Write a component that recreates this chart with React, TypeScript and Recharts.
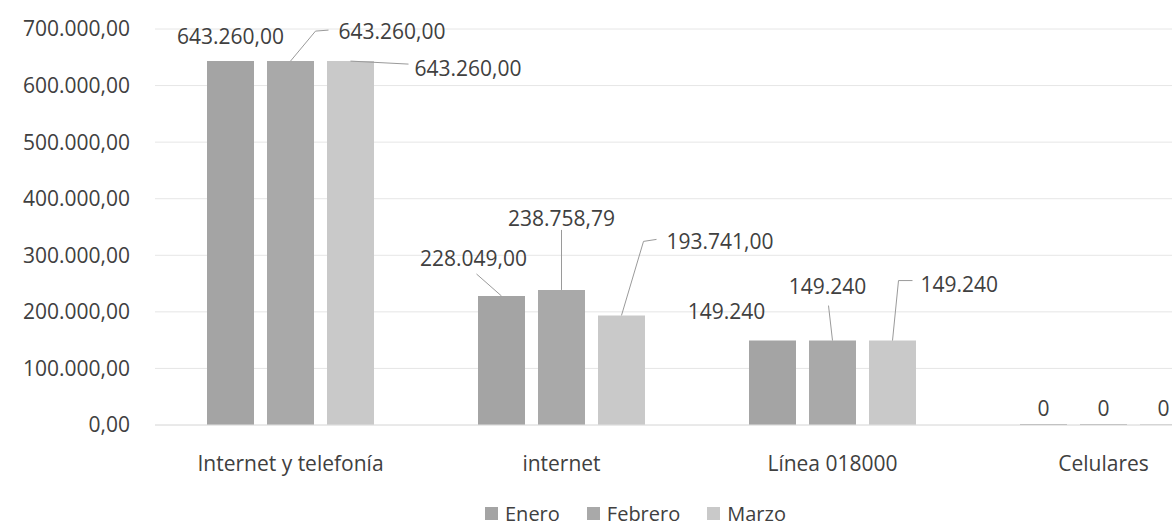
import { Bar, BarChart, CartesianGrid, LabelList, Legend, XAxis, YAxis } from "recharts";

// Categories and monthly values
const CATEGORIES = ["Internet y telefonía", "internet", "Línea 018000", "Celulares"];
const ENERO = [643260, 228049, 149240, 0];
const FEBRERO = [643260, 238758.79, 149240, 0];
const MARZO = [643260, 193741, 149240, 0];
const Y_TICKS = [0, 100000, 200000, 300000, 400000, 500000, 600000, 700000];
// decimals shown in the data labels, per category
const LABEL_DECIMALS = [2, 2, 0, 0];

const SERIES = [
    { key: "Enero", color: "#a4a4a4" },
    { key: "Febrero", color: "#a9a9a9" },
    { key: "Marzo", color: "#c9c9c9" },
];

const FONT = "'Open Sans', sans-serif";
const TEXT = "#404040";

type Layout = { dx: number; dy: number; anchor: "start" | "middle"; leader?: [number, number][] };

// label placement relative to the top centre of each bar (Excel style, with leader lines)
const LABEL_LAYOUT: Record<string, Layout[]> = {
    Enero: [
        { dx: 0, dy: -25, anchor: "middle" },
        { dx: -28, dy: -38, anchor: "middle", leader: [[0, 0], [-25, -22]] },
        { dx: -46, dy: -30, anchor: "middle" },
        { dx: 0, dy: -17, anchor: "middle" },
    ],
    Febrero: [
        { dx: 48, dy: -30, anchor: "start", leader: [[0, 0], [25, -30], [38, -31]] },
        { dx: 0, dy: -72, anchor: "middle", leader: [[0, 0], [0, -60]] },
        { dx: -5, dy: -55, anchor: "middle", leader: [[0, 0], [-4, -35]] },
        { dx: 0, dy: -17, anchor: "middle" },
    ],
    Marzo: [
        { dx: 64, dy: 7, anchor: "start", leader: [[0, 0], [58, 3]] },
        { dx: 45, dy: -74, anchor: "start", leader: [[0, 0], [22, -74], [35, -76]] },
        { dx: 28, dy: -57, anchor: "start", leader: [[0, 0], [6, -60], [20, -60]] },
        { dx: 0, dy: -17, anchor: "middle" },
    ],
};

const data = CATEGORIES.map((name, i) => ({
    name,
    Enero: ENERO[i],
    Febrero: FEBRERO[i],
    Marzo: MARZO[i],
}));

// 643260 -> "643.260,00"
function fmt(v: number, decimals: number) {
    const [int, dec] = v.toFixed(decimals).split(".");
    const grouped = int.replace(/\B(?=(\d{3})+(?!\d))/g, ".");
    return dec ? `${grouped},${dec}` : grouped;
}

const makeLabel = (series: string) => (props: any) => {
    const { x, y, width, height, value, index } = props;
    const cx = Number(x) + Number(width) / 2;
    // zero bars get a min height of 1px, so measure from their bottom
    const top = Number(value) === 0 ? Number(y) + Number(height) : Number(y);
    const lay = LABEL_LAYOUT[series][index];
    return (
        <g>
            {lay.leader && (
                <polyline
                    points={lay.leader.map(([px, py]) => `${cx + px},${top + py}`).join(" ")}
                    fill="none"
                    stroke="#9a9a9a"
                    strokeWidth={1}
                />
            )}
            <text
                x={cx + lay.dx}
                y={top + lay.dy}
                textAnchor={lay.anchor}
                dominantBaseline="central"
                fontFamily={FONT}
                fontSize={21}
                fill={TEXT}
            >
                {fmt(Number(value), LABEL_DECIMALS[index])}
            </text>
        </g>
    );
};

function LegendContent() {
    return (
        <div style={{ display: "flex", alignItems: "center", height: 27, fontFamily: FONT, fontSize: 20, color: TEXT }}>
            {SERIES.map((s) => (
                <div key={s.key} style={{ display: "flex", alignItems: "center", marginRight: 27 }}>
                    <span style={{ width: 13, height: 13, background: s.color, marginRight: 7, display: "inline-block" }} />
                    <span>{s.key}</span>
                </div>
            ))}
        </div>
    );
}

export default function App() {
    return (
        <div
            style={{
                position: "absolute",
                left: 0,
                top: 0,
                width: 1172,
                height: 527,
                overflow: "hidden",
                background: "#fff",
                fontFamily: FONT,
            }}
        >
            <BarChart
                width={1245}
                height={527}
                data={data}
                margin={{ top: 29, right: 6, left: 0, bottom: 0 }}
                barGap={13}
                barCategoryGap={52}
            >
                <CartesianGrid vertical={false} stroke="#e6e6e6" />
                <XAxis
                    dataKey="name"
                    height={75}
                    tickLine={false}
                    axisLine={{ stroke: "#e0e0e0" }}
                    tickMargin={25}
                    tick={{ fontFamily: FONT, fontSize: 21, fill: TEXT }}
                />
                <YAxis
                    width={155}
                    domain={[0, 700000]}
                    ticks={Y_TICKS}
                    tickFormatter={(v: number) => fmt(v, 2)}
                    axisLine={false}
                    tickLine={false}
                    tickMargin={19}
                    tick={{ fontFamily: FONT, fontSize: 21, fill: TEXT }}
                />
                <Legend
                    verticalAlign="bottom"
                    align="left"
                    content={<LegendContent />}
                    wrapperStyle={{ left: 485, width: 360, height: 27 }}
                />
                {SERIES.map((s) => (
                    <Bar key={s.key} dataKey={s.key} fill={s.color} minPointSize={1} isAnimationActive={false}>
                        <LabelList dataKey={s.key} content={makeLabel(s.key)} />
                    </Bar>
                ))}
            </BarChart>
        </div>
    );
}
